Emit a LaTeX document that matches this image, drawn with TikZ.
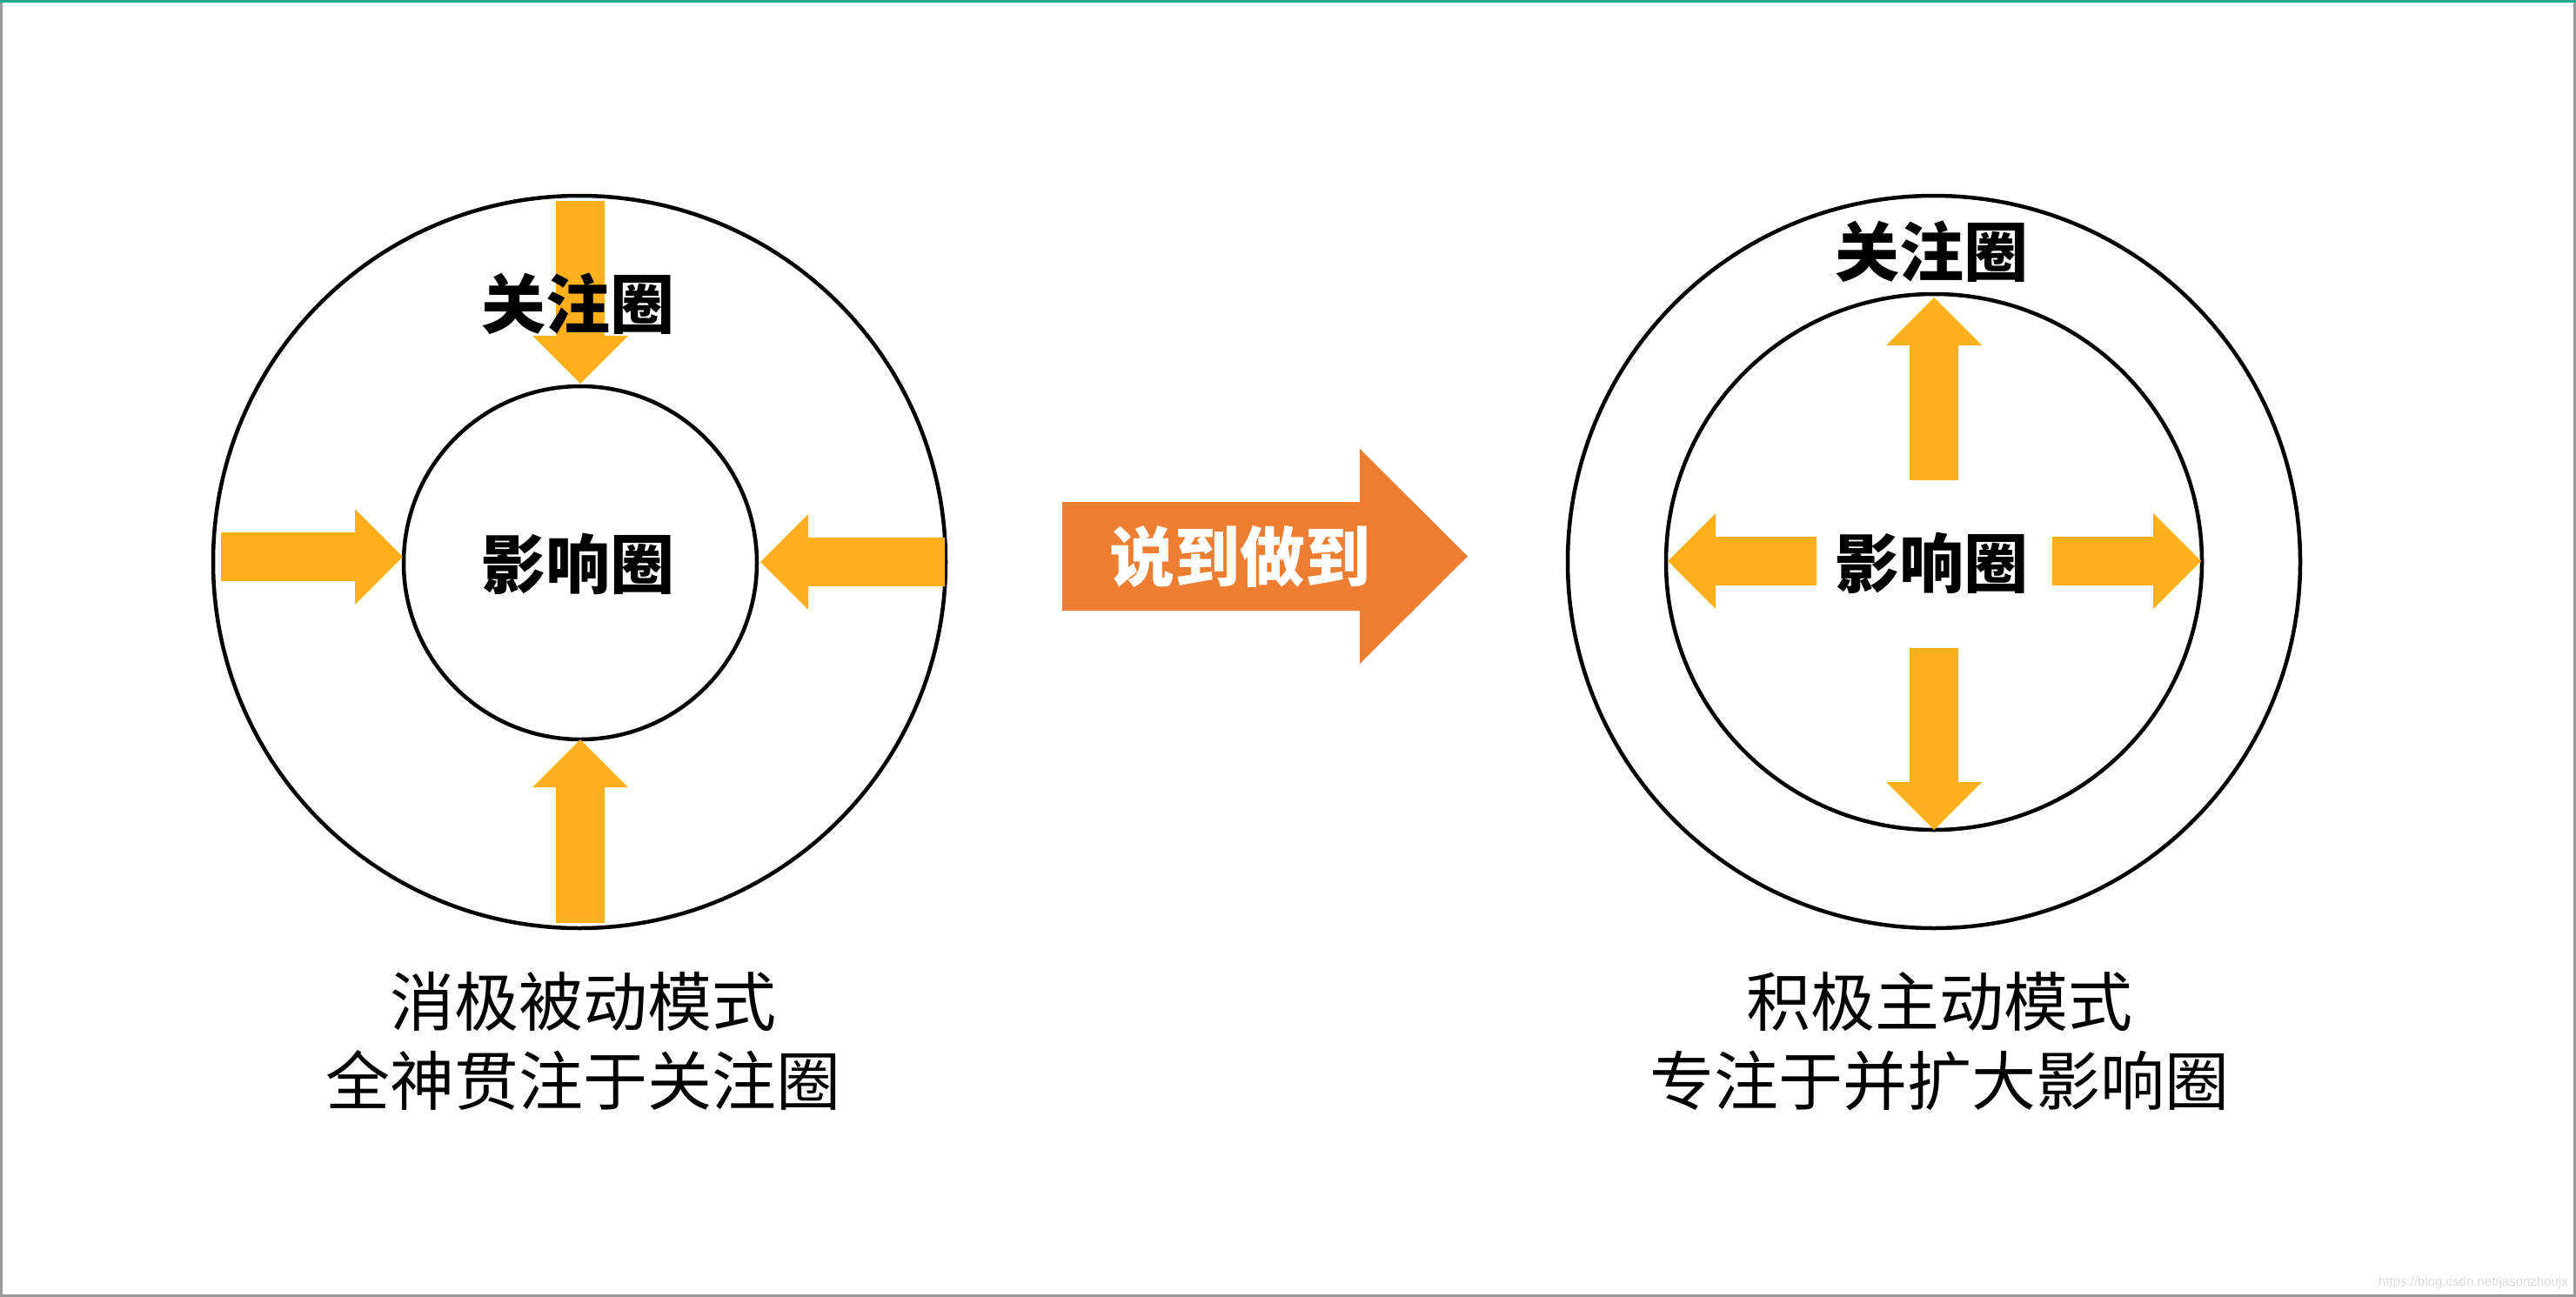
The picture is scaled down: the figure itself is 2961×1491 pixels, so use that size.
\documentclass[tikz,border=0pt]{standalone}
\usepackage{fontspec}
\newfontfamily\cjk{Noto Sans CJK SC}
\setsansfont{Liberation Sans}
\definecolor{arrowyellow}{RGB}{255,176,26}
\definecolor{arroworange}{RGB}{237,125,49}
\definecolor{topteal}{RGB}{32,170,140}
\definecolor{bordergray}{RGB}{153,153,153}
\begin{document}
\begin{tikzpicture}[x=1pt,y=-1pt,
  ring/.style={circle,draw=black,line width=4.5pt,inner sep=0pt,outer sep=0pt,minimum size=#1},
  boldlabel/.style={font=\cjk\bfseries\fontsize{74}{80}\selectfont,anchor=base,inner sep=0pt},
  captext/.style={font=\cjk\fontsize{74}{80}\selectfont,anchor=base,inner sep=0pt},
  pics/blockarrow/.style={code={\fill[arrowyellow] (0,0) -- (-55,-55) -- (-55,-28) -- (-#1,-28) -- (-#1,28) -- (-55,28) -- (-55,55) -- cycle;}}
]
\fill[white] (0,0) rectangle (2961,1491);
\useasboundingbox (0,0) rectangle (2961,1491);
% frame
\draw[bordergray,line width=3pt] (1.5,0) -- (1.5,1489.5) -- (2959.5,1489.5) -- (2959.5,0);
\draw[topteal,line width=3pt] (0,1.5) -- (2961,1.5);

% left diagram
\node[ring=842] (outerL) at (666,646) {};
\node[ring=406] (innerL) at (667,647) {};
\pic[rotate=-90] at (667,441) {blockarrow=210};
\pic[rotate=90] at (667,850) {blockarrow=211};
\pic at (463,640) {blockarrow=209};
\pic[rotate=180] at (874,646) {blockarrow=212};
\node[boldlabel] (focusL) at (664,377) {关注圈};
\node[boldlabel] (inflL) at (664,676) {影响圈};
\node[captext] (capL1) at (670,1179) {消极被动模式};
\node[captext] (capL2) at (670,1270) {全神贯注于关注圈};

% middle arrow
\fill[arroworange] (1221,577) -- (1563,577) -- (1563,516) -- (1687,639.5) -- (1563,763) -- (1563,702) -- (1221,702) -- cycle;
\node[font=\cjk\bfseries\fontsize{75}{80}\selectfont,text=white,anchor=base,inner sep=0pt] (say) at (1425,668) {说到做到};

% right diagram
\node[ring=842] (outerR) at (2223,646) {};
\node[ring=616] (innerR) at (2223,646) {};
\pic[rotate=90] at (2223,342) {blockarrow=210};
\pic[rotate=-90] at (2223,954) {blockarrow=209};
\pic[rotate=180] at (1917,645) {blockarrow=171};
\pic at (2530,645) {blockarrow=171};
\node[boldlabel] (focusR) at (2220,317) {关注圈};
\node[boldlabel] (inflR) at (2220,675) {影响圈};
\node[captext] (capR1) at (2229,1179) {积极主动模式};
\node[captext] (capR2) at (2229,1270) {专注于并扩大影响圈};

% watermark
\node[font=\sffamily\fontsize{15}{16}\selectfont,text=black!14,anchor=base east,inner sep=0pt] (wm) at (2952,1478) {https://blog.csdn.net/jasonzhoujx};
\end{tikzpicture}
\end{document}
